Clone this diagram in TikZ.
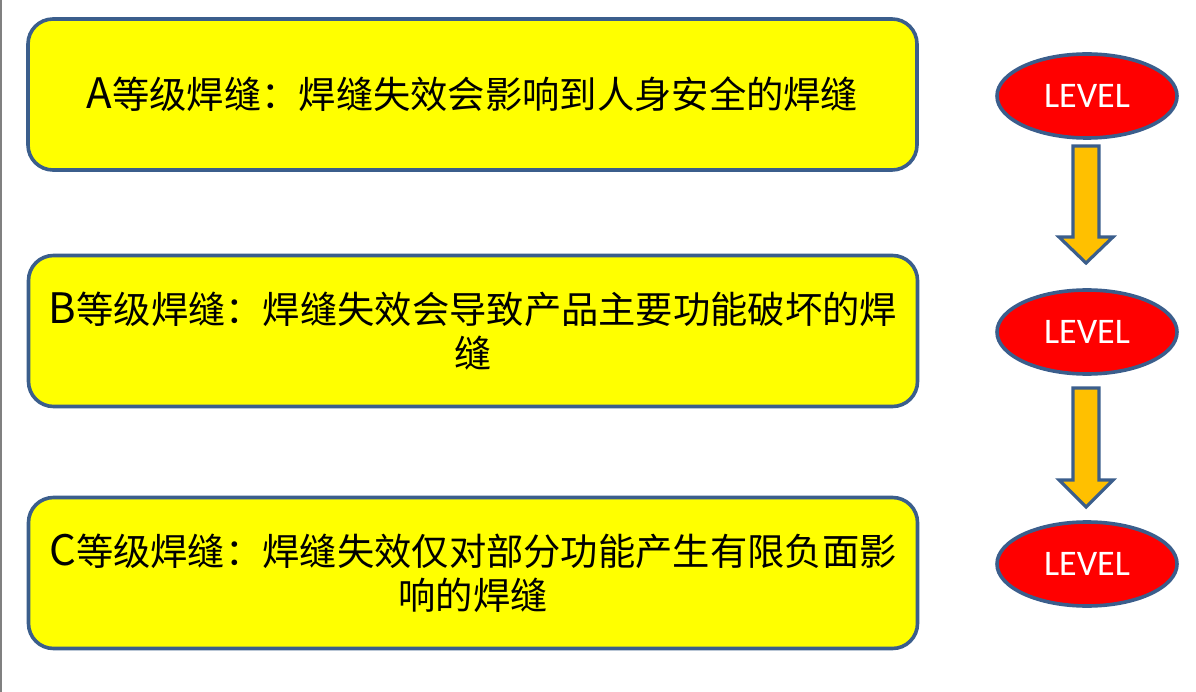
\documentclass[tikz,border=0pt]{standalone}
\usepackage{fontspec}
\setmainfont{Carlito}
\newfontfamily\cjk{Noto Sans CJK SC}
\usetikzlibrary{shapes.geometric}
\definecolor{edge}{HTML}{3B5E8C}
\definecolor{boxyellow}{HTML}{FFFF00}
\definecolor{arrowfill}{HTML}{FFC000}
\definecolor{lvlred}{HTML}{FF0000}
\newcommand\lat[1]{{\fontsize{42}{44}\selectfont #1}}
\tikzset{
  gradebox/.style={draw=edge, line width=3.6pt, fill=boxyellow, rounded corners=25pt,
    minimum width=889pt, minimum height=151pt, inner sep=0pt, align=center,
    font=\cjk\fontsize{37.3}{44}\selectfont},
  levelnode/.style={ellipse, draw=edge, line width=3.6pt, fill=lvlred,
    minimum width=180pt, minimum height=84pt, inner sep=0pt, text=white,
    font=\fontsize{36}{40}\selectfont},
  blockarrow/.style={draw=edge, line width=3.2pt, fill=arrowfill, line join=miter}
}
\begin{document}
\begin{tikzpicture}[x=1pt,y=-1pt]
\useasboundingbox (0,0) rectangle (1196,692);
\fill[white] (0,0) rectangle (1196,692);
\draw[gray, line width=1.5pt] (0.75,0) -- (0.75,692);

\node[gradebox] (A) at (472.5,94.5) {\lat{A}等级焊缝：焊缝失效会影响到人身安全的焊缝};
\node[gradebox] (B) at (473,331) {\lat{B}等级焊缝：焊缝失效会导致产品主要功能破坏的焊\\缝};
\node[gradebox] (C) at (473,573) {\lat{C}等级焊缝：焊缝失效仅对部分功能产生有限负面影\\响的焊缝};

\node[levelnode] (L1) at (1087,96) {LEVEL};
\node[levelnode] (L2) at (1087,332) {LEVEL};
\node[levelnode] (L3) at (1087,564) {LEVEL};

\coordinate (a1) at (1086,146);
\coordinate (a2) at (1086,388);
\draw[blockarrow] (a1) ++(-13,0) -- ++(26,0) -- ++(0,91) -- ++(14,0) -- ++(-27,26) -- ++(-27,-26) -- ++(14,0) -- cycle;
\draw[blockarrow] (a2) ++(-13,0) -- ++(26,0) -- ++(0,92) -- ++(14,0) -- ++(-27,27) -- ++(-27,-27) -- ++(14,0) -- cycle;
\end{tikzpicture}
\end{document}
